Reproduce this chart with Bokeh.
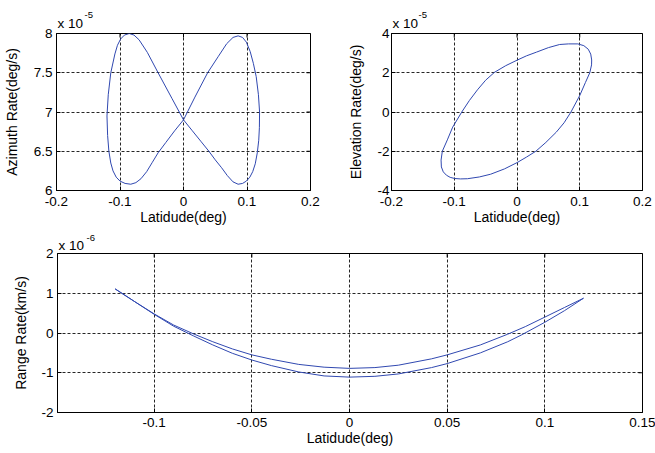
import math
from bokeh.plotting import figure
from bokeh.models import FixedTicker, Label, Range1d
from bokeh.layouts import column, row
from bokeh.embed import file_html
from bokeh.resources import INLINE

FONT = "Liberation Sans"
LINE_COLOR = "#3048b0"

# ---------------- data ----------------
# Plot 1: Azimuth rate (x 1e-5 deg/s) vs latitude (deg)
az_lat = [0.000, 0.018, 0.038, 0.055, 0.068, 0.078, 0.086, 0.093, 0.099, 0.105,
          0.110, 0.1145, 0.118, 0.1198, 0.1195, 0.1185, 0.1162, 0.1130, 0.1090, 0.1045,
          0.0990, 0.0930, 0.0860, 0.0780, 0.0690, 0.0600, 0.0500, 0.0400, 0.0280, 0.0140,
          0.000,
          -0.018, -0.040, -0.057, -0.070, -0.078, -0.0855, -0.093, -0.099, -0.104, -0.108,
          -0.1145, -0.1185, -0.1205, -0.1195, -0.1175, -0.1145, -0.111, -0.106, -0.100, -0.092,
          -0.083, -0.075, -0.067, -0.058, -0.049, -0.040, -0.028, -0.014, 0.000]
az_rate = [6.90, 7.19, 7.50, 7.71, 7.87, 7.95, 7.97, 7.95, 7.89, 7.77,
           7.62, 7.45, 7.22, 7.00, 6.80, 6.64, 6.48, 6.34, 6.24, 6.17,
           6.12, 6.09, 6.08, 6.11, 6.19, 6.29, 6.39, 6.50, 6.62, 6.76,
           6.90,
           7.17, 7.50, 7.76, 7.92, 7.98, 8.00, 7.98, 7.93, 7.85, 7.74,
           7.50, 7.22, 6.95, 6.70, 6.50, 6.35, 6.25, 6.17, 6.12, 6.09,
           6.08, 6.10, 6.15, 6.24, 6.36, 6.48, 6.61, 6.76, 6.90]

# Plot 2: Elevation rate (x 1e-5 deg/s) vs latitude (deg)
el_lat = [0.097, 0.082, 0.068, 0.050, 0.031, 0.015, 0.000, -0.018, -0.036, -0.050,
          -0.063, -0.076, -0.088, -0.1025, -0.111, -0.119, -0.121, -0.1205, -0.1175, -0.1125,
          -0.1065, -0.099, -0.090, -0.079, -0.060, -0.042, -0.020, 0.000, 0.015, 0.030,
          0.046, 0.0625, 0.075, 0.086, 0.100, 0.109, 0.116, 0.1188, 0.119, 0.1175,
          0.1135, 0.1065, 0.097]
el_rate = [3.47, 3.47, 3.44, 3.28, 3.05, 2.86, 2.64, 2.36, 2.02, 1.62,
           1.13, 0.58, 0.00, -0.77, -1.42, -2.00, -2.45, -2.80, -3.05, -3.22,
           -3.33, -3.39, -3.41, -3.40, -3.31, -3.17, -2.90, -2.58, -2.30, -2.00,
           -1.55, -1.03, -0.55, 0.00, 0.84, 1.50, 2.00, 2.40, 2.65, 2.95,
           3.20, 3.38, 3.47]

# Plot 3: Range rate (x 1e-6 km/s) vs latitude (deg); upper branch, then lower branch back
rr_lat = [-0.120, -0.110, -0.100, -0.090, -0.080, -0.070, -0.060, -0.050, -0.040, -0.026,
          -0.013, 0.000, 0.013, 0.025, 0.042, 0.050, 0.067, 0.081, 0.090, 0.100,
          0.110, 0.1198,
          0.110, 0.100, 0.088, 0.081, 0.067, 0.050, 0.042, 0.025, 0.013, 0.000,
          -0.013, -0.026, -0.040, -0.050, -0.060, -0.070, -0.080, -0.090, -0.100, -0.110,
          -0.120]
rr_rate = [1.11, 0.79, 0.48, 0.20, -0.02, -0.22, -0.40, -0.55, -0.66, -0.79,
           -0.86, -0.89, -0.87, -0.81, -0.65, -0.55, -0.30, -0.03, 0.16, 0.40,
           0.64, 0.875,
           0.56, 0.27, -0.05, -0.22, -0.50, -0.77, -0.87, -1.03, -1.09, -1.11,
           -1.08, -0.98, -0.82, -0.68, -0.51, -0.30, -0.07, 0.17, 0.47, 0.79,
           1.11]

# ticks
top_xticks = [-0.2, -0.1, 0.0, 0.1, 0.2]
top_xlabels = ["-0.2", "-0.1", "0", "0.1", "0.2"]
az_yticks = [6.0, 6.5, 7.0, 7.5, 8.0]
az_ylabels = ["6", "6.5", "7", "7.5", "8"]
el_yticks = [-4.0, -2.0, 0.0, 2.0, 4.0]
el_ylabels = ["-4", "-2", "0", "2", "4"]
rr_xticks = [-0.1, -0.05, 0.0, 0.05, 0.1, 0.15]
rr_xlabels = ["-0.1", "-0.05", "0", "0.05", "0.1", "0.15"]
rr_yticks = [-2.0, -1.0, 0.0, 1.0, 2.0]
rr_ylabels = ["-2", "-1", "0", "1", "2"]


def make_fig(width, height, borders, xr, yr, xticks, xlabels, yticks, ylabels,
             xlabel, ylabel, xs, ys, sx, lx, sy, ly, exp_text, exp_dy, exp_dx, exp_sup):
    p = figure(width=width, height=height, x_range=Range1d(*xr), y_range=Range1d(*yr),
               output_backend="svg", toolbar_location=None, title=None,
               min_border_left=borders[0], min_border_right=borders[1],
               min_border_top=borders[2], min_border_bottom=borders[3])
    p.background_fill_color = "white"
    p.border_fill_color = "white"
    p.outline_line_color = "black"
    p.outline_line_width = 1
    p.outline_line_alpha = 1

    for g in (p.xgrid, p.ygrid):
        g.grid_line_color = "black"
        g.grid_line_dash = "3 2"
        g.grid_line_width = 1
        g.grid_line_alpha = 0.85

    p.line(xs, ys, line_color=LINE_COLOR, line_width=1)

    # inward tick marks on the top and right edges (half of each dash is clipped away)
    p.scatter([t for t in xticks], [yr[1]] * len(xticks), marker="dash", size=8,
              angle=math.pi / 2, line_color="black", line_width=1)
    p.scatter([xr[1]] * len(yticks), [t for t in yticks], marker="dash", size=8,
              line_color="black", line_width=1)

    p.xaxis.ticker = FixedTicker(ticks=xticks)
    p.yaxis.ticker = FixedTicker(ticks=yticks)
    p.xaxis.major_label_overrides = {t: s for t, s in zip(xticks, xlabels)}
    p.yaxis.major_label_overrides = {t: s for t, s in zip(yticks, ylabels)}
    for ax in (p.xaxis, p.yaxis):
        ax.major_tick_in = 4
        ax.major_tick_out = 0
        ax.minor_tick_line_color = None
        ax.axis_line_color = "black"
        ax.major_tick_line_color = "black"
        ax.major_label_text_font = FONT
        ax.major_label_text_font_size = "13.5px"
        ax.major_label_text_color = "black"
        ax.axis_label_text_font = FONT
        ax.axis_label_text_font_size = "14px"
        ax.axis_label_text_font_style = "normal"
        ax.axis_label_text_color = "black"
    p.xaxis.axis_label = xlabel
    p.yaxis.axis_label = ylabel
    p.xaxis.major_label_standoff = sx
    p.xaxis.axis_label_standoff = lx
    p.yaxis.major_label_standoff = sy
    p.yaxis.axis_label_standoff = ly

    # axis multiplier "x 10^n" above the top-left corner
    p.add_layout(Label(x=xr[0], y=yr[1], x_offset=1, y_offset=exp_dy, text="x 10",
                       text_font=FONT, text_font_size="13.5px", text_color="black",
                       text_baseline="alphabetic", text_align="left"), "above")
    p.add_layout(Label(x=xr[0], y=yr[1], x_offset=exp_dx, y_offset=exp_dy + exp_sup, text=exp_text,
                       text_font=FONT, text_font_size="9.5px", text_color="black",
                       text_baseline="alphabetic", text_align="left"), "above")
    return p


p1 = make_fig(345, 228, (56, 35, 33, 38), (-0.2, 0.2), (6, 8),
              top_xticks, top_xlabels, az_yticks, az_ylabels,
              "Latidude(deg)", "Azimuth Rate(deg/s)", az_lat, az_rate,
              6, 0, 4, 11, "-5", 10, 28, 8.5)
p2 = make_fig(310, 228, (44, 13, 33, 38), (-0.2, 0.2), (-4, 4),
              top_xticks, top_xlabels, el_yticks, el_ylabels,
              "Latidude(deg)", "Elevation Rate(deg/s)", el_lat, el_rate,
              6, 0, 2, 10, "-5", 10, 27, 8.5)
p3 = make_fig(655, 225, (57, 13, 25, 41), (-0.1495, 0.15), (-2, 2),
              rr_xticks, rr_xlabels, rr_yticks, rr_ylabels,
              "Latidude(deg)", "Range Rate(km/s)", rr_lat, rr_rate,
              5, 0, 4, 9, "-6", 8, 29, 7.5)

layout = column(row(p1, p2), p3)
open("out.html", "w").write(file_html(layout, INLINE))
